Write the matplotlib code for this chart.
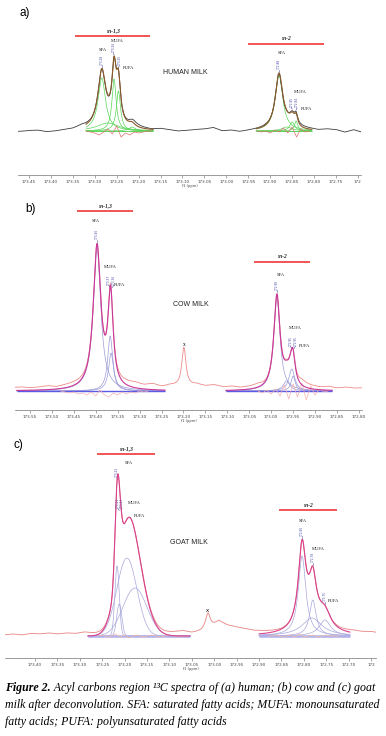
import numpy as np
import matplotlib.pyplot as plt
from matplotlib.ticker import MultipleLocator

# ---- values (ppm, intensity above baseline in arbitrary units) ----

# a) human milk
a_ticks = [173.45, 173.40, 173.35, 173.30, 173.25, 173.20, 173.15, 173.10,
           173.05, 173.00, 172.95, 172.90, 172.85, 172.80, 172.75, 172.70]
a_sn13_ppm = [173.284, 173.256, 173.246, 173.270, 173.215]
a_sn13_height = [53, 52, 40, 8, 4]
a_sn13_hwhm = [0.0103, 0.0057, 0.0057, 0.0300, 0.0091]
a_sn2_ppm = [172.880, 172.850, 172.841, 172.862]
a_sn2_height = [56, 9, 10, 4]
a_sn2_hwhm = [0.0103, 0.0068, 0.0046, 0.0137]
a_windows = [(173.320, 173.167), (172.932, 172.805)]
a_noise_start = 173.47   # one value every 0.02 ppm
a_noise = [-0.7, 0, 0.3, -1.5, -1, 0, 0.5, 2.5, 1, 0, -1, 0, 1, 3, 1.5, 0.5,
           1.5, 0.5, -0.7, 0, 1, 1.5, 3, -0.3, 0.3, -1.3, -0.3, 0.5, 1, 0,
           -1, 1, 2, 1.5, 0.5, 1.5, 1, -1.5, 1, -1.5]
a_res_start = [173.32, 172.93]   # one value every 0.01 ppm
a_res_sn13 = [0, -1, -2, -4, -1, 2, -3, 5, -6, -2, -4, -1, -2, -1, 0, 0]
a_res_sn2 = [0, -1, 0, -2, 1, -1, 3, -2, 4, -6, 2, -1, 0]

# b) cow milk
b_ticks = [173.55, 173.50, 173.45, 173.40, 173.35, 173.30, 173.25, 173.20,
           173.15, 173.10, 173.05, 173.00, 172.95, 172.90, 172.85, 172.80]
b_sn13_ppm = [173.397, 173.367, 173.365]
b_sn13_height = [143, 55, 38]
b_sn13_hwhm = [0.0103, 0.0068, 0.0068]
b_sn2_ppm = [172.987, 172.953, 172.950, 172.965]
b_sn2_height = [94, 22, 15, 10]
b_sn2_hwhm = [0.0085, 0.0080, 0.0057, 0.0091]
b_windows = [(173.580, 173.242), (173.103, 172.861)]
b_x_peak = [(173.199, 39, 0.0057)]
b_noise_start = 173.59
b_noise = [3, 3.5, 2.5, 3, 4, 2.5, 3.5, 4, 3, 1, 0, 2, 3, 5, 6, 4.5, 6, 3.5,
           5, 4, 4, 6, 4.5, 5.5, 3.5, 4, 2.5, 3, 4, 1, 0, 1, 0, 6, 4, 3, 4,
           2.5, 3.5, 2.5, 3]
b_res_start = [173.48, 173.03]
b_res_sn13 = [0, -1, -2, -1, -3, -2, -4, -1, -5, 1, -4, -6, -2, -4, -1, -3,
              -1, -2, 0, -1, 0]
b_res_sn2 = [0, -2, 1, -3, 2, -5, 6, -8, 7, -6, 8, -9, 5, -4, 2, -1, 0]

# c) goat milk
c_ticks = [173.40, 173.35, 173.30, 173.25, 173.20, 173.15, 173.10, 173.05,
           173.00, 172.95, 172.90, 172.85, 172.80, 172.75, 172.70, 172.65]
c_sn13_ppm = [173.217, 173.212, 173.195, 173.177]
c_sn13_height = [70, 32, 78, 48]
c_sn13_hwhm = [0.0058, 0.0066, 0.0263, 0.0315]
c_sn2_ppm = [172.804, 172.780, 172.782, 172.753]
c_sn2_height = [80, 36, 18, 16]
c_sn2_hwhm = [0.0100, 0.0089, 0.0268, 0.0156]
c_windows = [(173.282, 173.054), (172.900, 172.697)]
c_x_peak = [(173.014, 17, 0.0067)]
c_noise_start = 173.47
c_noise = [1, 2, 1, 2.5, 2, 3, 2, 3, 2.5, 4, 3, 2, 0, 0, 0, 0, 1, 2, 3, 4, 5,
           3, 4, 6, 14, 10, 8, 6, 4, 3, 2, 1, 0, 0, 0, 0, 0, 1, 2, 3, 2.5, 3, 2]
c_res_start = [173.26, 172.88]
c_res_sn13 = [0, 1, -1, 0, 2, -1, 1, -2, 0, 1, -1, 0, 1, 0, -1, 0, 1, 0, 0, -1, 0]
c_res_sn2 = [0, 0, 1, -1, 0, 1, -1, 2, -1, 0, 1, -1, 0, 1, 0, 0, 0]


def profile(x, c, h, w, eta):
    # pseudo-Voigt line (eta=1 Lorentzian, eta=0 Gaussian), w = half width
    d = (x - c) / w
    return h * (eta / (1 + d ** 2) + (1 - eta) * np.exp(-np.log(2) * d ** 2))


fig = plt.figure(figsize=(3.86, 7.36), dpi=100)


def px_axes(left, right, top, bottom):
    return fig.add_axes([left / 386, 1 - bottom / 736,
                         (right - left) / 386, (bottom - top) / 736])


def draw_panel(ax, xlim, ylim, ticks, short_last, groups, noise_start, noise,
               extra, col):
    x = np.linspace(xlim[0], xlim[1], 3000)
    total = np.zeros_like(x)
    fits = []
    for ppm, hgt, hw, eta, win, rstart, res in groups:
        comps = [profile(x, c, h, w, eta) for c, h, w in zip(ppm, hgt, hw)]
        s = np.sum(comps, axis=0)
        total += s
        fits.append((win, comps, s, rstart, res))
    for c, h, w in extra:
        total += profile(x, c, h, w, 1.0)
    npos = noise_start - 0.02 * np.arange(len(noise))
    trace = total + np.interp(x, npos[::-1], np.array(noise, float)[::-1])

    ax.plot(x, trace, color=col['trace'], lw=0.6, zorder=2)
    for win, comps, s, rstart, res in fits:
        m = (x <= win[0]) & (x >= win[1])
        for cc in comps:
            ax.plot(x[m], cc[m], color=col['comp'], lw=0.5, zorder=1)
        ax.plot(win, [0, 0], color=col['base'], lw=col['base_lw'], zorder=1,
                solid_capstyle='butt')
        rx = rstart - 0.01 * np.arange(len(res))
        ax.plot(rx, res, color=col['res'], lw=0.5, zorder=1)
        ax.plot(x[m], s[m], color=col['fit'], lw=0.8, zorder=3)

    ax.set_xlim(xlim)
    ax.set_ylim(ylim)
    ax.set_yticks([])
    for sp in ['left', 'right', 'top']:
        ax.spines[sp].set_visible(False)
    ax.spines['bottom'].set_color('#777777')
    ax.spines['bottom'].set_linewidth(0.5)
    ax.set_xticks(ticks)
    labels = ['%.2f' % t for t in ticks]
    if short_last:
        labels[-1] = '172'
    ax.set_xticklabels(labels)
    ax.xaxis.set_minor_locator(MultipleLocator(0.01))
    ax.tick_params(axis='x', which='major', labelsize=3, length=1.8, width=0.4,
                   pad=1.5, colors='#666666', labelcolor='#444444')
    ax.tick_params(axis='x', which='minor', length=1, width=0.3, colors='#888888')
    ax.set_xlabel('f1 (ppm)', fontsize=2.6, labelpad=0, color='#444444')
    ax.patch.set_alpha(0)
    return x, trace


def pick(ax, x, trace, c, dx=0.0, ybase=None, color='#4a4aa8'):
    # peak-pick marker: short leader and the shift written vertically
    y = np.interp(c, x[::-1], trace[::-1]) if ybase is None else ybase
    ax.plot([c, c + dx], [y + 1.5, y + 3.5], color=color, lw=0.4)
    ax.text(c + dx, y + 4, '%.2f' % c, rotation=90, fontsize=2.1, color=color,
            ha='center', va='bottom')


serif = 'Liberation Serif'
sans = 'Liberation Sans'


def small(ax, px, py, s):
    ax.text(px, py, s, fontsize=3.3, family=serif, ha='center', va='center',
            color='#222222')


def sn_bar(ax, p0, p1, y, s):
    ax.plot([p0, p1], [y, y], color='#f04848', lw=1.3, solid_capstyle='butt')
    ax.text((p0 + p1) / 2, y + 5, s, fontsize=4, family=serif, style='italic',
            weight='bold', ha='center', va='center', color='#222222')


# ---------- a) ----------
ax_a = px_axes(18, 361, 20, 175)
col_a = dict(trace='#3c3c3c', fit='#8a5a2c', comp='#5ad65a', base='#5ad65a',
             base_lw=0.7, res='#e07070')
xa, ta = draw_panel(
    ax_a, (173.475, 172.693), (-44, 111), a_ticks, True,
    [(a_sn13_ppm, a_sn13_height, a_sn13_hwhm, 1.0, a_windows[0], a_res_start[0], a_res_sn13),
     (a_sn2_ppm, a_sn2_height, a_sn2_hwhm, 1.0, a_windows[1], a_res_start[1], a_res_sn2)],
    a_noise_start, a_noise, [], col_a)
pick(ax_a, xa, ta, 173.284)
pick(ax_a, xa, ta, 173.256, dx=0.002)
pick(ax_a, xa, ta, 173.246, dx=-0.002)
pick(ax_a, xa, ta, 172.880)
pick(ax_a, xa, ta, 172.850, dx=0.002)
pick(ax_a, xa, ta, 172.841, dx=-0.002)
sn_bar(ax_a, 173.345, 173.174, 95, 'sn-1,3')
sn_bar(ax_a, 172.951, 172.777, 87, 'sn-2')
small(ax_a, 173.281, 81, 'SFA')
small(ax_a, 173.249, 90, 'MUFA')
small(ax_a, 173.224, 63, 'PUFA')
small(ax_a, 172.873, 78, 'SFA')
small(ax_a, 172.832, 39, 'MUFA')
small(ax_a, 172.816, 22, 'PUFA')
ax_a.text(173.094, 58, 'HUMAN MILK', fontsize=5, family=sans, ha='center',
          va='center', color='#222222')

# ---------- b) ----------
ax_b = px_axes(15, 362, 195, 410)
col_b = dict(trace='#ee8a8a', fit='#c8389a', comp='#9c9cd8', base='#5a5ae6',
             base_lw=1.0, res='#f6b0b0')
xb, tb = draw_panel(
    ax_b, (173.584, 172.793), (-19, 196), b_ticks, False,
    [(b_sn13_ppm, b_sn13_height, b_sn13_hwhm, 1.0, b_windows[0], b_res_start[0], b_res_sn13),
     (b_sn2_ppm, b_sn2_height, b_sn2_hwhm, 1.0, b_windows[1], b_res_start[1], b_res_sn2)],
    b_noise_start, b_noise, b_x_peak, col_b)
pick(ax_b, xb, tb, 173.397)
pick(ax_b, xb, tb, 173.367, dx=0.003, ybase=102)
pick(ax_b, xb, tb, 173.362, dx=-0.003, ybase=102)
pick(ax_b, xb, tb, 172.987)
pick(ax_b, xb, tb, 172.953, dx=0.003, ybase=41)
pick(ax_b, xb, tb, 172.948, dx=-0.003, ybase=41)
sn_bar(ax_b, 173.443, 173.315, 180, 'sn-1,3')
sn_bar(ax_b, 173.039, 172.911, 129, 'sn-2')
small(ax_b, 173.399, 170, 'SFA')
small(ax_b, 173.366, 124, 'MUFA')
small(ax_b, 173.346, 106, 'PUFA')
small(ax_b, 172.978, 116, 'SFA')
small(ax_b, 172.946, 63, 'MUFA')
small(ax_b, 172.925, 45, 'PUFA')
ax_b.text(173.199, 46, 'x', fontsize=4, family=serif, ha='center', va='center')
ax_b.text(173.183, 86, 'COW MILK', fontsize=5, family=sans, ha='center',
          va='center', color='#222222')

# ---------- c) ----------
ax_c = px_axes(5, 376, 445, 658)
col_c = dict(trace='#e88282', fit='#d8428e', comp='#a8a8dc', base='#b0b0ea',
             base_lw=1.8, res='#f6bca6')
xc, tc = draw_panel(
    ax_c, (173.467, 172.639), (-22, 191), c_ticks, True,
    [(c_sn13_ppm, c_sn13_height, c_sn13_hwhm, 0.0, c_windows[0], c_res_start[0], c_res_sn13),
     (c_sn2_ppm, c_sn2_height, c_sn2_hwhm, 1.0, c_windows[1], c_res_start[1], c_res_sn2)],
    c_noise_start, c_noise, c_x_peak, col_c)
pick(ax_c, xc, tc, 173.217)
pick(ax_c, xc, tc, 173.212, dx=0.003, ybase=124)
pick(ax_c, xc, tc, 173.207, dx=-0.001, ybase=124)
pick(ax_c, xc, tc, 172.804)
pick(ax_c, xc, tc, 172.780)
pick(ax_c, xc, tc, 172.753)
sn_bar(ax_c, 173.262, 173.132, 182, 'sn-1,3')
sn_bar(ax_c, 172.855, 172.726, 126, 'sn-2')
small(ax_c, 173.190, 173, 'SFA')
small(ax_c, 173.178, 133, 'MUFA')
small(ax_c, 173.166, 120, 'PUFA')
small(ax_c, 172.802, 115, 'SFA')
small(ax_c, 172.768, 87, 'MUFA')
small(ax_c, 172.733, 35, 'PUFA')
ax_c.text(173.014, 26, 'x', fontsize=4.5, family=sans, ha='center', va='center')
ax_c.text(173.056, 93, 'GOAT MILK', fontsize=5, family=sans, ha='center',
          va='center', color='#222222')

# panel letters
fig.text(20 / 386, 1 - 13 / 736, 'a)', fontsize=8.5, family=sans, va='center')
fig.text(25 / 386, 1 - 209 / 736, 'b)', fontsize=8.5, family=sans, va='center')
fig.text(13 / 386, 1 - 445 / 736, 'c)', fontsize=8.5, family=sans, va='center')

# caption
cap = fig.add_axes([0, 0, 1, 1])
cap.axis('off')
cap.patch.set_alpha(0)
fs = 8.6
t1 = cap.text(5 / 386, 1 - 688 / 736, 'Figure 2.', fontsize=fs, family=serif,
              style='italic', weight='bold', va='center')
cap.annotate(' Acyl carbons region \u00b9\u00b3C spectra of (a) human; (b) cow and (c) goat',
             xy=(1, 0.5), xycoords=t1, fontsize=fs, family=serif,
             style='italic', va='center')
cap.text(5 / 386, 1 - 705 / 736,
         'milk after deconvolution. SFA: saturated fatty acids; MUFA: monounsaturated',
         fontsize=fs, family=serif, style='italic', va='center')
cap.text(5 / 386, 1 - 722 / 736, 'fatty acids; PUFA: polyunsaturated fatty acids',
         fontsize=fs, family=serif, style='italic', va='center')

plt.savefig('out.png', dpi=100)
